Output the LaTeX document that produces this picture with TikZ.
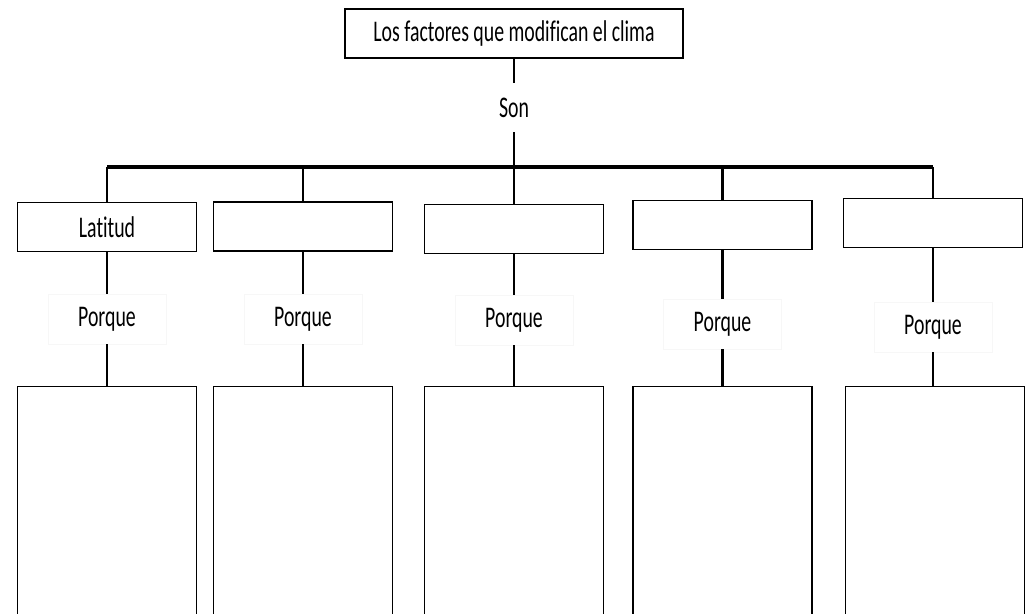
\documentclass[tikz,border=0pt]{standalone}
\usepackage{fontspec}
\setmainfont{Carlito}[FakeStretch=0.66, Ligatures=NoCommon]
\usetikzlibrary{positioning}
\tikzset{
  titlebox/.style={rectangle, draw=black, line width=1.5pt, minimum width=338pt, minimum height=49pt,
    inner sep=0pt, text centered},
  factor/.style={rectangle, draw=black, line width=1.5pt, minimum width=179pt, minimum height=49pt,
    inner sep=0pt, text centered},
  why/.style={rectangle, draw=black!3, line width=0.8pt, minimum width=118pt, minimum height=50pt,
    inner sep=0pt, text centered},
  answer/.style={rectangle, draw=black, line width=1.3pt, minimum width=179pt, minimum height=260pt,
    anchor=north},
  conn/.style={line width=2.6pt, draw=black},
  barline/.style={line width=3.5pt, draw=black},
}

\begin{document}
\begin{tikzpicture}[x=1pt, y=-1pt, font=\fontsize{30}{33}\selectfont]
  \useasboundingbox (0,0) rectangle (1032,613);
  \clip (0,0) rectangle (1032,613);

  \node[titlebox] (topic) at (514,33.5) {Los factores que modifican el clima};
  \node[minimum height=49pt, inner sep=0pt] (son) at (514,107.5) {Son};
  \coordinate (junc) at (514,167);

  \node[factor] (f1) at (107,227) {Latitud};
  \node[factor] (f2) at (303,226.5) {};
  \node[factor] (f3) at (514,229) {};
  \node[factor] (f4) at (722.5,225) {};
  \node[factor] (f5) at (933,223) {};

  \node[why] (w1) at (107,319) {Porque};
  \node[why] (w2) at (303,319) {Porque};
  \node[why] (w3) at (514,320) {Porque};
  \node[why] (w4) at (722.5,324) {Porque};
  \node[why] (w5) at (933,327) {Porque};

  \node[answer] (a1) at (107,386) {};
  \node[answer] (a2) at (303,386) {};
  \node[answer] (a3) at (514,386) {};
  \node[answer] (a4) at (722.5,386) {};
  \node[answer] (a5) at (935,386) {};

  \draw[conn] (topic) -- (son);
  \draw[conn] (son) -- (junc);
  \draw[barline] (f1.north |- junc) -- (f5.north |- junc);
  \foreach \i in {1,...,5} {
    \draw[conn] (f\i.north |- junc) -- (f\i);
    \draw[conn] (f\i) -- (w\i);
    \draw[conn] (w\i) -- (w\i |- a\i.north);
  }
\end{tikzpicture}
\end{document}
